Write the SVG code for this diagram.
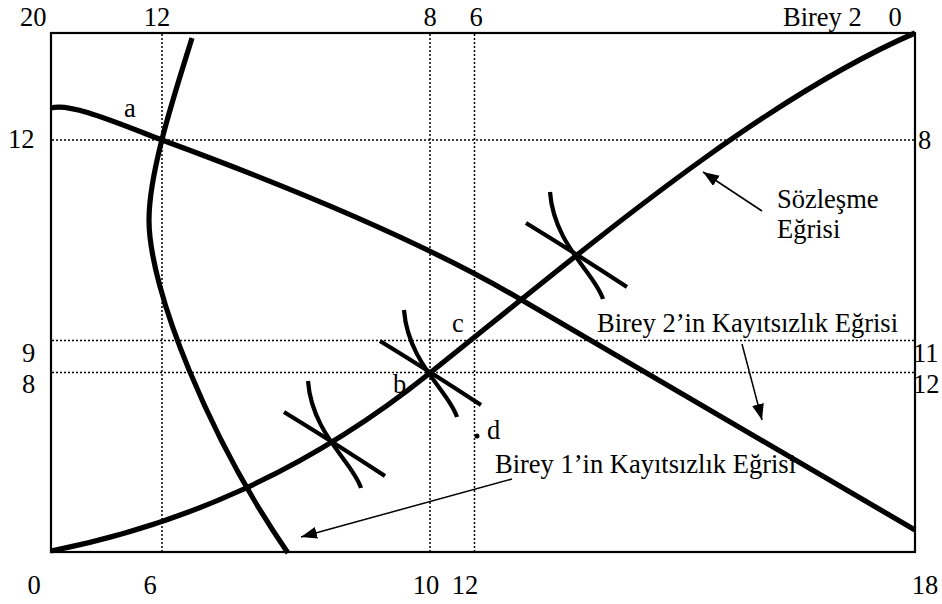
<svg xmlns="http://www.w3.org/2000/svg" width="942" height="604" viewBox="0 0 942 604">
<style>
text{font-family:"Liberation Serif","Times New Roman",serif;font-size:26.5px;fill:#000}
.grid{stroke:#000;stroke-width:1.5;stroke-dasharray:2 2;fill:none}
.curve{stroke:#000;stroke-width:5.2;fill:none;stroke-linecap:butt}
.ic{stroke:#000;stroke-width:4.2;fill:none}
.arrow{stroke:#000;stroke-width:1.5;fill:none;marker-end:url(#ah)}
.m{text-anchor:middle}
</style>
<defs>
<marker id="ah" markerUnits="userSpaceOnUse" markerWidth="18" markerHeight="14" refX="16" refY="6" orient="auto">
<path d="M0,0 L16,6 L0,12 Z" fill="#000"/>
</marker>
<g id="cross">
<path class="ic" d="M-49,-32 Q0,-2 52,32"/>
<path class="ic" d="M-25,-63 C-21,-10 20,18 28,44"/>
</g>
</defs>
<rect fill="#fff" width="942" height="604"/>
<g id="grid">
<line class="grid" x1="162" y1="34" x2="162" y2="551"/>
<line class="grid" x1="430" y1="34" x2="430" y2="551"/>
<line class="grid" x1="474.5" y1="34" x2="474.5" y2="551"/>
<line class="grid" x1="52" y1="140" x2="914" y2="140"/>
<line class="grid" x1="52" y1="340.5" x2="914" y2="340.5"/>
<line class="grid" x1="52" y1="372.5" x2="914" y2="372.5"/>
</g>
<g id="box">
<rect x="51" y="33" width="864" height="519" fill="none" stroke="#000" stroke-width="2.2"/>
</g>
<g id="contract-curve">
<path class="curve" d="M51,551 C177,526 304,474 430,373 C590,245 760,100 915,33"/>
</g>
<g id="ic-birey1">
<path class="curve" d="M192,38 C176,90 149,170 149,220 C149,290 210,440 288,553"/>
</g>
<g id="ic-birey2">
<path class="curve" d="M51,108 C70,103 110,120 162,140 C290,187 420,240 520,299 L915,530"/>
</g>
<g id="tangencies">
<use href="#cross" transform="translate(333,444)"/>
<use href="#cross" transform="translate(429,373)"/>
<use href="#cross" transform="translate(575,255)"/>
</g>
<g id="point-d">
<circle cx="477" cy="436" r="2.5" fill="#000"/>
</g>
<g id="connectors">
<line class="arrow" x1="762" y1="211" x2="703" y2="172"/>
<line class="arrow" x1="742" y1="344" x2="762" y2="420"/>
<line class="arrow" x1="512" y1="479" x2="301" y2="537"/>
</g>
<g id="labels">
<text x="20" y="26">20</text>
<text class="m" x="157" y="26">12</text>
<text class="m" x="430" y="26">8</text>
<text class="m" x="476" y="26">6</text>
<text x="783" y="26">Birey 2</text>
<text class="m" x="895" y="26">0</text>
<text x="8" y="148">12</text>
<text x="22" y="362">9</text>
<text x="22" y="393">8</text>
<text x="918" y="149">8</text>
<text x="913" y="362">11</text>
<text x="913" y="393">12</text>
<text class="m" x="34" y="594">0</text>
<text class="m" x="150" y="594">6</text>
<text class="m" x="426" y="594">10</text>
<text class="m" x="465" y="594">12</text>
<text class="m" x="925" y="594">18</text>
<text x="124" y="117">a</text>
<text x="393" y="393">b</text>
<text x="452" y="332">c</text>
<text x="487" y="439">d</text>
<text x="777" y="208">Sözleşme</text>
<text x="777" y="238">Eğrisi</text>
<text x="597" y="332">Birey 2’in Kayıtsızlık Eğrisi</text>
<text x="495" y="473">Birey 1’in Kayıtsızlık Eğrisi</text>
</g>
</svg>
